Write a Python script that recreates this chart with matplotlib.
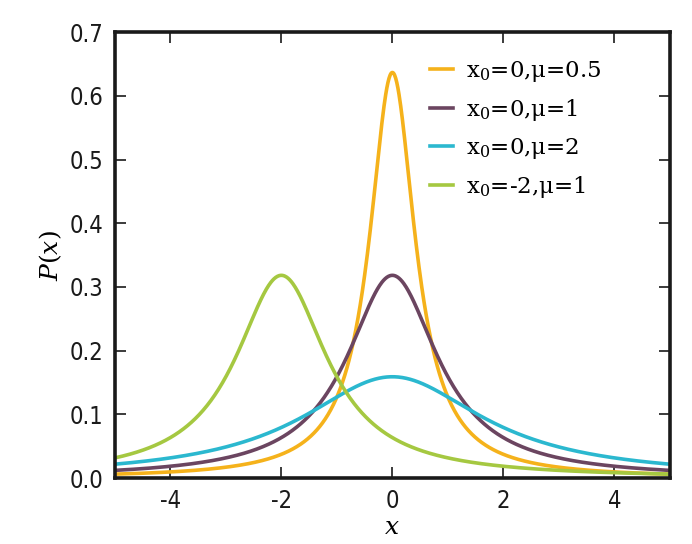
import numpy as np
import matplotlib
matplotlib.use("Agg")
import matplotlib.pyplot as plt

# Cauchy (Lorentz) distribution parameters
x0_vals = [0, 0, 0, -2]
mu_vals = [0.5, 1, 2, 1]
labels = ["x$_0$=0,μ=0.5", "x$_0$=0,μ=1", "x$_0$=0,μ=2", "x$_0$=-2,μ=1"]
colors = ["#F5B21B", "#6B4560", "#2BB8CF", "#A5C841"]

xticks = [-4, -2, 0, 2, 4]
yticks = [0.0, 0.1, 0.2, 0.3, 0.4, 0.5, 0.6, 0.7]

plt.rcParams["mathtext.fontset"] = "dejavuserif"

fig = plt.figure(figsize=(6.92, 5.44), dpi=100)
ax = fig.add_axes([0.166, 0.121, 0.802, 0.820])

x = np.linspace(-5, 5, 1001)
for x0, mu, lab, c in zip(x0_vals, mu_vals, labels, colors):
    p = 1.0 / (np.pi * mu * (1 + ((x - x0) / mu) ** 2))
    ax.plot(x, p, color=c, lw=2.6, label=lab)

ax.set_xlim(-5, 5)
ax.set_ylim(0, 0.7)
ax.set_xticks(xticks)
ax.set_xticklabels([str(t) for t in xticks])
ax.set_yticks(yticks)
ax.set_yticklabels(["%.1f" % t for t in yticks])

for s in ax.spines.values():
    s.set_linewidth(2.6)
    s.set_color("#1a1a1a")
ax.tick_params(direction="in", length=8, width=1.2, top=True, right=True,
               labelsize=17, pad=8, colors="#1a1a1a")
for t in ax.get_xticklabels() + ax.get_yticklabels():
    t.set_fontstretch("condensed")

ax.set_xlabel("$x$", fontsize=18, labelpad=1)
ax.set_ylabel("$P(x)$", fontsize=18, labelpad=4)

leg = ax.legend(loc="upper left", bbox_to_anchor=(0.53, 0.985), frameon=False,
                prop={"family": "DejaVu Serif", "size": 16.5},
                handlelength=1.0, handletextpad=0.6, labelspacing=0.56)
for h in leg.get_lines():
    h.set_linewidth(2.6)

fig.savefig("out.png", dpi=100)
